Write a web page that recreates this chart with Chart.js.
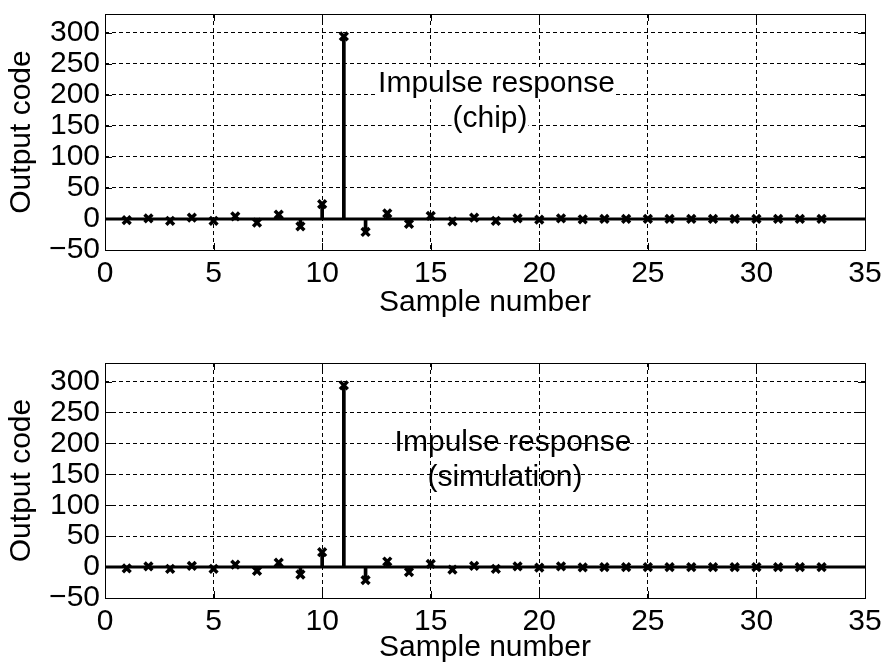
<!DOCTYPE html>
<html>
<head>
<meta charset="utf-8">
<script src="https://cdn.jsdelivr.net/npm/chart.js@4.4.0/dist/chart.umd.min.js"></script>
<style>
  body { margin: 0; background: #fff; }
  .panel { position: relative; width: 885px; height: 333px; }
</style>
</head>
<body>
<div class="panel"><canvas id="chipChart"></canvas></div>
<div class="panel"><canvas id="simChart"></canvas></div>
<script>
// sample index and measured output codes
const sampleNumbers = [1, 2, 3, 4, 5, 6, 7, 8, 9, 10, 11, 12, 13, 14, 15, 16, 17,
  18, 19, 20, 21, 22, 23, 24, 25, 26, 27, 28, 29, 30, 31, 32, 33];
const chipValues = [-2, 1, -3, 2, -3, 4, -6, 7, -12, 24, 294, -21, 9, -8, 5, -4, 2,
  -3, 1, -1, 1, -0.5, 0, 0, 0, 0, 0, 0, 0, 0, 0, 0, 0];
const simValues = [-2, 1, -3, 2, -3, 4, -6, 7, -12, 24, 294, -21, 9, -8, 5, -4, 2,
  -3, 1, -1, 1, -0.5, 0, 0, 0, 0, 0, 0, 0, 0, 0, 0, 0];
const xTicks = [0, 5, 10, 15, 20, 25, 30, 35];
const yTicks = [-50, 0, 50, 100, 150, 200, 250, 300];

const FONT = '"Liberation Sans", Arial, Helvetica, sans-serif';
Chart.defaults.font.family = FONT;
Chart.defaults.font.size = 30;
Chart.defaults.color = '#000';

// text inside the axes, placed in data units
const textLabels = {
  id: 'textLabels',
  beforeDatasetsDraw(chart, args, opts) {
    const {ctx, scales: {x, y}} = chart;
    ctx.save();
    ctx.font = '30px ' + FONT;
    ctx.textAlign = 'center';
    ctx.textBaseline = 'alphabetic';
    opts.lines.forEach(l => {
      const px = x.getPixelForValue(l.x);
      const py = y.getPixelForValue(l.y);
      if (opts.background) {
        const w = ctx.measureText(l.text).width;
        ctx.fillStyle = '#fff';
        ctx.fillRect(px - w / 2 - 1, py - 23, w + 2, 30);
      }
      ctx.fillStyle = '#000';
      ctx.fillText(l.text, px, py);
    });
    // stem baseline
    const y0 = y.getPixelForValue(0);
    ctx.strokeStyle = '#000';
    ctx.lineWidth = 3;
    ctx.beginPath();
    ctx.moveTo(chart.chartArea.left, y0);
    ctx.lineTo(chart.chartArea.right, y0);
    ctx.stroke();
    ctx.restore();
  }
};

// matlab style box with inward ticks
const axesBox = {
  id: 'axesBox',
  afterDraw(chart) {
    const {ctx, chartArea: a, scales: {x, y}} = chart;
    const len = 7;
    ctx.save();
    ctx.strokeStyle = '#000';
    ctx.lineWidth = 1;
    ctx.beginPath();
    x.ticks.forEach(t => {
      const px = Math.round(x.getPixelForValue(t.value)) + 0.5;
      ctx.moveTo(px, a.bottom); ctx.lineTo(px, a.bottom - len);
      ctx.moveTo(px, a.top); ctx.lineTo(px, a.top + len);
    });
    y.ticks.forEach(t => {
      const py = Math.round(y.getPixelForValue(t.value)) + 0.5;
      ctx.moveTo(a.left, py); ctx.lineTo(a.left + len, py);
      ctx.moveTo(a.right, py); ctx.lineTo(a.right - len, py);
    });
    ctx.stroke();
    ctx.strokeRect(Math.round(a.left) + 0.5, Math.round(a.top) + 0.5,
      Math.round(a.right - a.left), Math.round(a.bottom - a.top));
    ctx.restore();
  }
};

function makeStemChart(id, values, lines, top, xHeight, titlePad, background) {
  const points = sampleNumbers.map((n, i) => ({x: n, y: values[i]}));
  return new Chart(document.getElementById(id), {
    type: 'bar',
    data: {
      datasets: [{
        type: 'line',
        data: points,
        showLine: false,
        pointStyle: 'crossRot',
        pointRadius: 5.5,
        pointBorderWidth: 3.5,
        pointBorderColor: '#000',
        pointBackgroundColor: '#000'
      }, {
        type: 'bar',
        data: points,
        backgroundColor: '#000',
        borderWidth: 0,
        barThickness: 3
      }]
    },
    options: {
      responsive: true,
      maintainAspectRatio: false,
      animation: false,
      layout: { padding: { top: top, right: 20, left: 0, bottom: 0 } },
      plugins: {
        legend: { display: false },
        tooltip: { enabled: false },
        textLabels: { lines: lines, background: background }
      },
      scales: {
        x: {
          type: 'linear',
          min: 0,
          max: 35,
          offset: false,
          afterBuildTicks: s => { s.ticks = xTicks.map(v => ({value: v})); },
          afterFit: s => { s.height = xHeight; s.paddingLeft = 0; s.paddingRight = 0; },
          grid: { offset: false, color: '#000', lineWidth: 1, drawTicks: false },
          border: { display: false, dash: [4, 3] },
          ticks: { padding: 6, maxRotation: 0, autoSkip: false },
          title: { display: true, text: 'Sample number', padding: { top: 0, bottom: titlePad } }
        },
        y: {
          min: -50,
          max: 330,
          afterBuildTicks: s => { s.ticks = yTicks.map(v => ({value: v})); },
          afterFit: s => { s.width = 105; s.paddingTop = 0; s.paddingBottom = 0; },
          grid: { color: '#000', lineWidth: 1, drawTicks: false },
          border: { display: false, dash: [4, 3] },
          ticks: {
            padding: 5,
            autoSkip: false,
            callback: v => v < 0 ? '\u2212' + Math.abs(v) : String(v)
          },
          title: { display: true, text: 'Output code', padding: { top: 4, bottom: 0 } }
        }
      }
    },
    plugins: [textLabels, axesBox]
  });
}

makeStemChart('chipChart', chipValues, [
  {text: 'Impulse response', x: 18.03, y: 204},
  {text: '(chip)', x: 17.73, y: 147.5}
], 14, 83, 12, true);

makeStemChart('simChart', simValues, [
  {text: 'Impulse response', x: 18.79, y: 187},
  {text: '(simulation)', x: 18.42, y: 130.6}
], 30, 68, 0, false);
</script>
</body>
</html>
